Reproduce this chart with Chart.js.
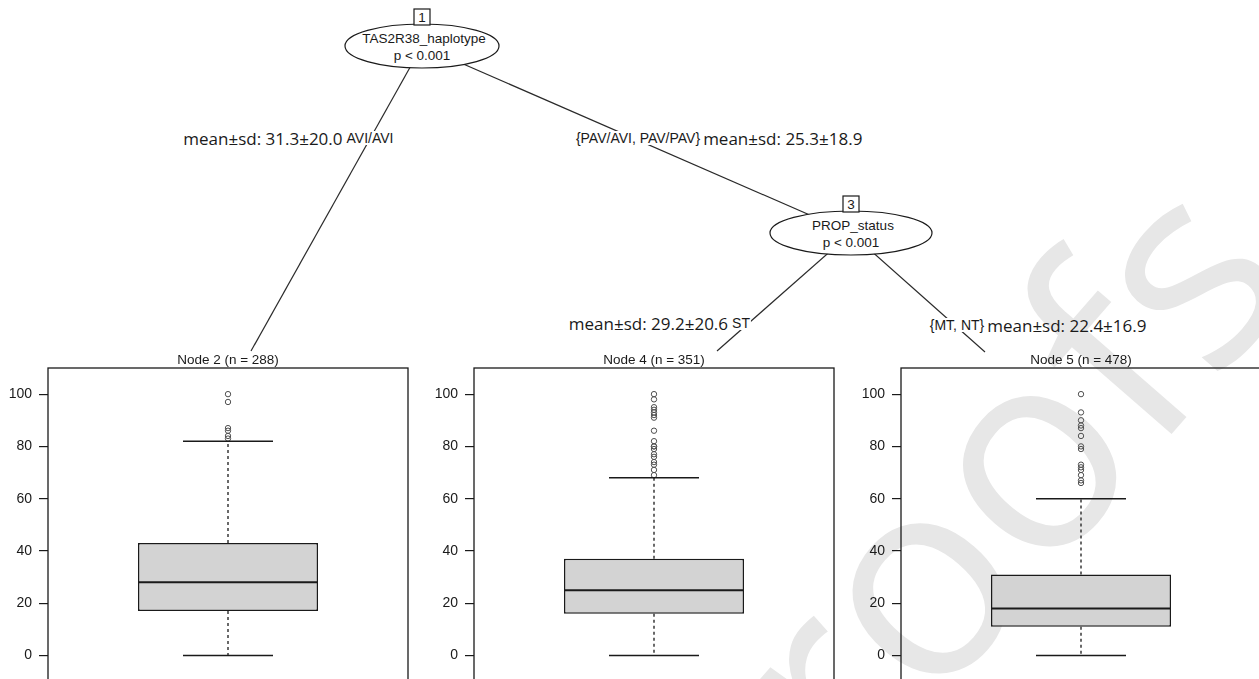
<!DOCTYPE html>
<html>
<head>
<meta charset="utf-8">
<script src="https://cdn.jsdelivr.net/npm/chart.js@4.4.1/dist/chart.umd.min.js"></script>
<style>
  html, body { margin: 0; padding: 0; background: #fff; }
  body { position: relative; width: 1259px; height: 679px; overflow: hidden; }
  #tree { position: absolute; left: 0; top: 0; }
  canvas.panel { position: absolute; top: 340px; width: 420px; height: 357px; }
</style>
</head>
<body>
<svg id="tree" width="1259" height="679" xmlns="http://www.w3.org/2000/svg"></svg>
<script>
// ---- terminal node summaries (boxplot statistics of the response) ----
const nodeIds      = [2, 4, 5];
const nodeCounts   = [288, 351, 478];
const lowerWhisker = [0, 0, 0];
const firstQuart   = [17, 16, 11];
const medians      = [28, 25, 18];
const thirdQuart   = [43, 37, 31];
const upperWhisker = [82, 68, 60];
const outliersNode2 = [100, 97, 87, 86, 84, 83];
const outliersNode4 = [100, 98, 95, 94, 93, 92, 91, 86, 82, 80, 80, 79, 77, 76, 74, 73, 71, 69];
const outliersNode5 = [100, 93, 90, 88, 87, 84, 80, 79, 73, 72, 71, 69, 67, 66];
const outliers = [outliersNode2, outliersNode4, outliersNode5];

// ---- y axis ----
const yTicks = [0, 20, 40, 60, 80, 100];
const yRange = [-10, 110];

// ---- inner nodes and splits ----
const innerIds    = [1, 3];
const splitVars   = ['TAS2R38_haplotype', 'PROP_status'];
const splitPvals  = ['p < 0.001', 'p < 0.001'];
const edgeLabels  = ['AVI/AVI', '{PAV/AVI, PAV/PAV}', 'ST', '{MT, NT}'];
const edgeMeans   = [31.3, 25.3, 29.2, 22.4];
const edgeSds     = [20.0, 18.9, 20.6, 16.9];

// ---- page layout (pixels) ----
const panelLefts = [0, 426, 853];
const innerPos   = [[422, 46], [851, 233]];
const edgeEnds   = [[251, 351], [851, 233], [717, 351], [985, 352]];
const edgeFrom   = [0, 0, 1, 1];
const edgeLabelPos = [[370, 138], [638, 138], [741, 323], [957, 325]];
const meanSide   = ['left', 'right', 'left', 'right'];

const RFONT = '"Liberation Sans", Arial, Helvetica, sans-serif';
const NOTEFONT = '"Open Sans", "Noto Sans", sans-serif';

// ---------- tree drawn as SVG ----------
const NS = 'http://www.w3.org/2000/svg';
const svg = document.getElementById('tree');
function el(name, attrs, text) {
  const e = document.createElementNS(NS, name);
  for (const k in attrs) e.setAttribute(k, attrs[k]);
  if (text !== undefined) e.textContent = text;
  svg.appendChild(e);
  return e;
}

// faint watermark
el('text', {
  x: 0, y: 0,
  transform: 'translate(940,535) rotate(-49)',
  'text-anchor': 'middle', 'dominant-baseline': 'central',
  'font-family': NOTEFONT, 'font-size': 280, fill: '#e7e7e7'
}, 'proofs');

// edges
edgeEnds.forEach((end, k) => {
  const [x0, y0] = innerPos[edgeFrom[k]];
  el('line', { x1: x0, y1: y0, x2: end[0], y2: end[1], stroke: '#2a2a2a', 'stroke-width': 1.2 });
});

// edge labels with white backing, plus mean±sd notes
edgeLabels.forEach((lab, k) => {
  const [cx, cy] = edgeLabelPos[k];
  const t = el('text', {
    x: cx, y: cy, 'text-anchor': 'middle', 'dominant-baseline': 'central',
    'font-family': RFONT, 'font-size': 14, fill: '#1a1a1a'
  }, lab);
  const w = t.getComputedTextLength();
  const r = document.createElementNS(NS, 'rect');
  r.setAttribute('x', cx - w / 2 - 1);
  r.setAttribute('y', cy - 7);
  r.setAttribute('width', w + 2);
  r.setAttribute('height', 14);
  r.setAttribute('fill', '#fff');
  svg.insertBefore(r, t);

  const note = 'mean±sd: ' + edgeMeans[k].toFixed(1) + '±' + edgeSds[k].toFixed(1);
  const left = meanSide[k] === 'left';
  el('text', {
    x: left ? cx - w / 2 - 4 : cx + w / 2 + 3, y: cy,
    'text-anchor': left ? 'end' : 'start', 'dominant-baseline': 'central',
    'font-family': NOTEFONT, 'font-size': 17, fill: '#1a1a1a'
  }, note);
});

// inner nodes
innerIds.forEach((id, k) => {
  const [cx, cy] = innerPos[k];
  const rx = k === 0 ? 77 : 81;
  el('ellipse', { cx, cy, rx, ry: 22, fill: '#fff', stroke: '#1a1a1a', 'stroke-width': 1.2 });
  el('rect', { x: cx - 8, y: cy - 37, width: 16, height: 16, fill: '#fff', stroke: '#1a1a1a', 'stroke-width': 1.2 });
  el('text', { x: cx, y: cy - 29, 'text-anchor': 'middle', 'dominant-baseline': 'central',
    'font-family': RFONT, 'font-size': 13.5, fill: '#1a1a1a' }, String(id));
  el('text', { x: cx + 2, y: cy - 8, 'text-anchor': 'middle', 'dominant-baseline': 'central',
    'font-family': RFONT, 'font-size': 13.5, fill: '#1a1a1a' }, splitVars[k]);
  el('text', { x: cx, y: cy + 9, 'text-anchor': 'middle', 'dominant-baseline': 'central',
    'font-family': RFONT, 'font-size': 13.5, fill: '#1a1a1a' }, splitPvals[k]);
});

// ---------- terminal node boxplots with Chart.js ----------
const boxPlugin = {
  id: 'boxParts',
  afterDatasetsDraw(chart, args, opts) {
    const i = opts.index;
    const { ctx, scales: { y } } = chart;
    const bar = chart.getDatasetMeta(0).data[0];
    const cx = bar.x;
    const half = bar.width / 2;
    const yq1 = y.getPixelForValue(firstQuart[i]);
    const yq3 = y.getPixelForValue(thirdQuart[i]);
    const ylo = y.getPixelForValue(lowerWhisker[i]);
    const yhi = y.getPixelForValue(upperWhisker[i]);
    const ymed = y.getPixelForValue(medians[i]);
    ctx.save();
    ctx.strokeStyle = '#1a1a1a';
    // dashed whiskers
    ctx.lineWidth = 1.3;
    ctx.setLineDash([3, 3]);
    ctx.beginPath();
    ctx.moveTo(cx, yq3); ctx.lineTo(cx, yhi);
    ctx.moveTo(cx, yq1); ctx.lineTo(cx, ylo);
    ctx.stroke();
    ctx.setLineDash([]);
    // staples
    ctx.lineWidth = 1.5;
    ctx.beginPath();
    ctx.moveTo(cx - half / 2, yhi); ctx.lineTo(cx + half / 2, yhi);
    ctx.moveTo(cx - half / 2, ylo); ctx.lineTo(cx + half / 2, ylo);
    ctx.stroke();
    // median
    ctx.lineWidth = 2;
    ctx.beginPath();
    ctx.moveTo(cx - half, ymed); ctx.lineTo(cx + half, ymed);
    ctx.stroke();
    ctx.restore();
  },
  afterDraw(chart, args, opts) {
    const i = opts.index;
    const { ctx, chartArea: a } = chart;
    ctx.save();
    ctx.strokeStyle = '#1a1a1a';
    ctx.lineWidth = 1.3;
    ctx.strokeRect(a.left, a.top, a.right - a.left, a.bottom - a.top);
    ctx.fillStyle = '#1a1a1a';
    ctx.font = '13.5px ' + RFONT;
    ctx.textAlign = 'center';
    ctx.textBaseline = 'middle';
    ctx.fillText('Node ' + nodeIds[i] + ' (n = ' + nodeCounts[i] + ')', (a.left + a.right) / 2, a.top - 8);
    ctx.restore();
  }
};

nodeIds.forEach((id, i) => {
  const cv = document.createElement('canvas');
  cv.className = 'panel';
  cv.width = 420;
  cv.height = 357;
  cv.style.left = panelLefts[i] + 'px';
  document.body.appendChild(cv);
  const label = 'Node ' + id;
  new Chart(cv, {
    type: 'bar',
    data: {
      labels: [label],
      datasets: [
        {
          type: 'bar',
          data: [[firstQuart[i], thirdQuart[i]]],
          backgroundColor: '#d3d3d3',
          borderColor: '#1a1a1a',
          borderWidth: 1.5,
          borderSkipped: false,
          barPercentage: 0.5,
          categoryPercentage: 1,
          order: 2
        },
        {
          type: 'line',
          data: outliers[i].map(v => ({ x: label, y: v })),
          showLine: false,
          pointRadius: 2.7,
          pointHoverRadius: 2.7,
          pointBackgroundColor: 'rgba(0,0,0,0)',
          pointBorderColor: '#505050',
          pointBorderWidth: 1,
          order: 1
        }
      ]
    },
    options: {
      responsive: false,
      maintainAspectRatio: false,
      animation: false,
      events: [],
      layout: { autoPadding: false, padding: { top: 28, right: 12, bottom: 5, left: 0 } },
      plugins: {
        legend: { display: false },
        tooltip: { enabled: false },
        boxParts: { index: i }
      },
      scales: {
        x: { display: false },
        y: {
          min: yRange[0],
          max: yRange[1],
          afterBuildTicks: s => { s.ticks = yTicks.map(v => ({ value: v })); },
          afterFit: s => { s.width = 48; },
          grid: { drawOnChartArea: false, drawTicks: true, tickLength: 9, color: '#1a1a1a', lineWidth: 1.2 },
          border: { display: false },
          ticks: { padding: 7, color: '#1a1a1a', font: { family: RFONT, size: 14 } }
        }
      }
    },
    plugins: [boxPlugin]
  });
});
</script>
</body>
</html>
